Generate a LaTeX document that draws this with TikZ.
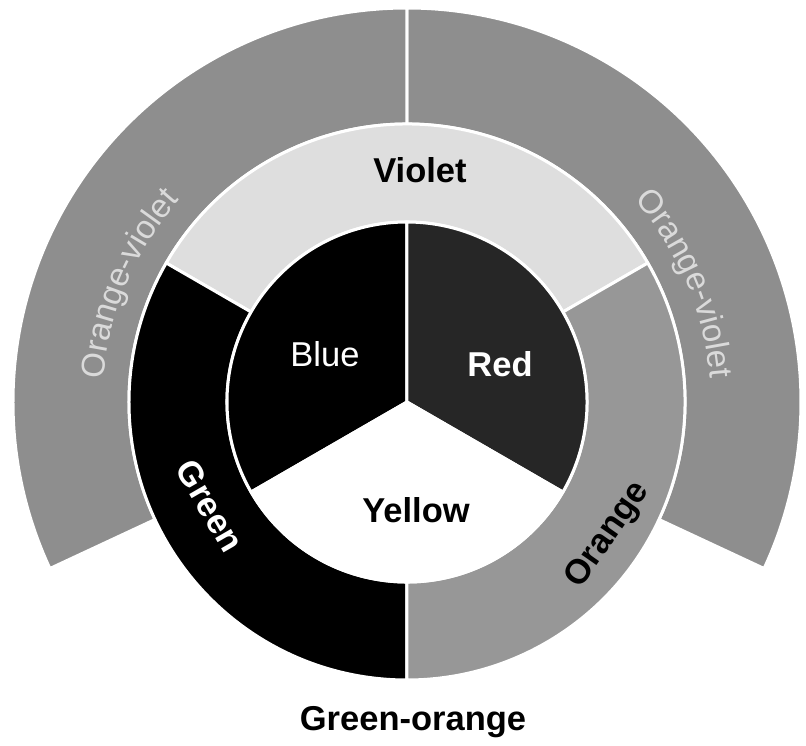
\documentclass[tikz,border=0pt]{standalone}
\usepackage{fontspec}
\setmainfont{Liberation Sans}
\usetikzlibrary{decorations.text}
\definecolor{outergray}{HTML}{8E8E8E}
\definecolor{orangegray}{HTML}{979797}
\definecolor{violetgray}{HTML}{DEDEDE}
\definecolor{redgray}{HTML}{262626}
\definecolor{fadewhite}{HTML}{DADADA}
\newcommand{\ringsector}[5]{\path[sector, fill=#5] (#1:#3) arc[start angle=#1, end angle=#2, radius=#3] -- (#2:#4) arc[start angle=#2, end angle=#1, radius=#4] -- cycle;}
\newcommand{\piesector}[3]{\path[sector, fill=#3] (0,0) -- (#1:180) arc[start angle=#1, end angle=#2, radius=180] -- cycle;}

\begin{document}
\begin{tikzpicture}[x=1pt, y=1pt,
		sector/.style={draw=white, line width=3pt, line join=round},
		lbl/.style={font=\fontsize{34.5}{38}\selectfont\bfseries},
		arclbl/.style={decorate, decoration={text along path, text align=center,
			text color=fadewhite, text={|\fontsize{33}{36}\selectfont|Orange-violet}}}
	]
	\useasboundingbox (-407,-343) rectangle (399,402);

	% outer ring
	\ringsector{-25}{90}{278}{394}{outergray}
	\ringsector{90}{205}{278}{394}{outergray}
	% secondary ring
	\ringsector{30}{150}{180}{278}{violetgray}
	\ringsector{150}{270}{180}{278}{black}
	\ringsector{-90}{30}{180}{278}{orangegray}
	% primary pie
	\piesector{90}{210}{black}
	\piesector{-30}{90}{redgray}
	\piesector{210}{330}{white}

	\path[arclbl] (187:304) arc[start angle=187, end angle=127, radius=304];
	\path[arclbl] (53:304) arc[start angle=53, end angle=-7, radius=304];

	\node[font=\fontsize{34.5}{38}\selectfont, white] (blue) at (-82,48) {Blue};
	\node[lbl, white] (red) at (93,38) {Red};
	\node[lbl] (yellow) at (9,-108) {Yellow};
	\node[lbl] (violet) at (13,232) {Violet};
	\node[lbl, white, rotate=-60] (green) at (-197,-104) {Green};
	\node[lbl, rotate=55] (orange) at (201,-133) {Orange};
	\node[lbl] (greenorange) at (6,-320) {Green-orange};
\end{tikzpicture}
\end{document}
